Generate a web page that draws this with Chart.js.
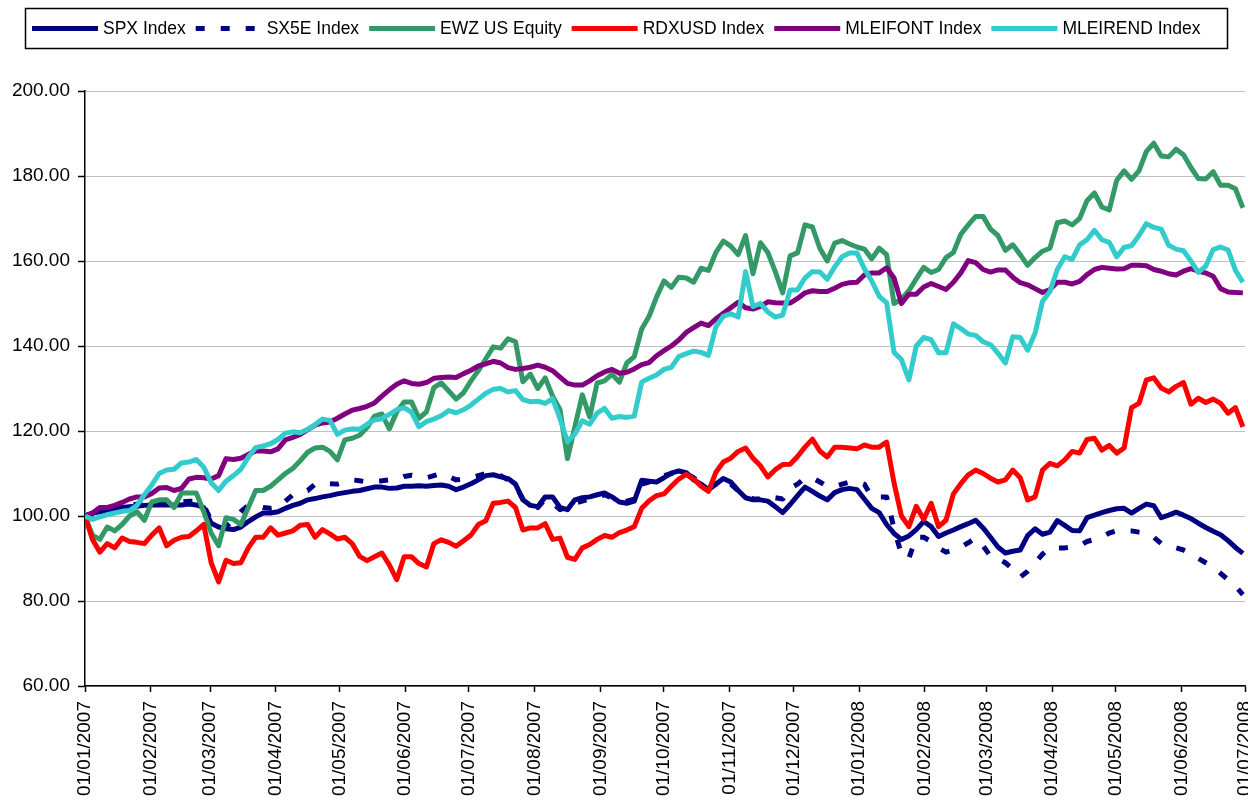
<!DOCTYPE html>
<html>
<head>
<meta charset="utf-8">
<title>Index performance 2007-2008</title>
<script src="https://cdn.jsdelivr.net/npm/chart.js@4.4.1/dist/chart.umd.min.js"></script>
<style>
  body { margin: 0; background: #fff; overflow: hidden; }
  canvas { display: block; }
</style>
</head>
<body>
<canvas id="chart" width="1248" height="801"></canvas>
<script>
// days since 01/01/2007: one reading at each week start and one mid-week
const weekDays = [0,7,14,21,28,35,42,49,56,63,70,77,84,91,98,105,112,119,126,133,140,147,154,161,168,175,182,189,196,203,210,217,224,231,238,245,252,259,266,273,280,287,294,301,308,315,322,329,336,343,350,357,364,371,378,385,392,399,406,413,420,427,434,441,448,455,462,469,476,483,490,497,504,511,518,525,532,539,546];
const midDays = weekDays.slice(0, -1).map(d => d + 3.5);

// month starts used as axis ticks
const monthDays = [0,31,59,90,120,151,181,212,243,273,304,334,365,396,425,456,486,517,547];
const monthLabels = ['01/01/2007','01/02/2007','01/03/2007','01/04/2007','01/05/2007','01/06/2007','01/07/2007','01/08/2007','01/09/2007','01/10/2007','01/11/2007','01/12/2007','01/01/2008','01/02/2008','01/03/2008','01/04/2008','01/05/2008','01/06/2008','01/07/2008'];

const yTicks = [60, 80, 100, 120, 140, 160, 180, 200];

const spxWeek = [100,101,101.8,102.2,102.5,102.6,102.6,102.8,102,97.4,96.8,98.7,100.7,101,102.5,103.8,104.5,105.2,105.8,106.4,106.8,106.6,107,107,107.3,106.2,107.6,109.5,109.2,107.5,102.5,104.5,102,103.8,104.5,105.4,103.3,103.5,108.2,109,110.6,108.5,106.2,108.8,106,103.8,103.5,100.8,104.8,105.8,103.8,106.2,106.2,101.8,98,94.5,96.8,97.5,96,97.5,99,95,91.3,92,97,96.2,97.8,96.5,100.2,101.3,101.8,101.8,102.4,100.2,100.2,98.3,96.4,94.2,91.2];
const spxMid = [100.7,101.3,102,102.3,102.6,102.6,102.6,102.6,98.3,97,97.4,99.8,100.7,101.8,103,104.1,104.8,105.5,106,106.8,106.5,107,107.1,107.2,107,106.8,108.5,109.7,108.8,103.8,102.2,104.5,101.5,104.3,105,104.5,103,108.4,108,110.1,110.2,107.5,107.5,108,104.3,103.8,102.2,102.7,106.8,104.7,105.5,106.5,104,100.8,95.9,95.3,98.7,95.2,96.7,98.2,97.2,92.7,91.7,95.4,95.7,98.9,96.6,99.6,100.8,101.7,100.7,102.8,99.6,100.9,99.4,97.3,95.6,92.6];

const sx5eWeek = [100,101,102,102.5,103,103,103.2,103.5,102.5,98,99,102.5,102,102,105,106,107.7,107.5,108.5,108,108.3,108.5,109.6,109,110,108.5,109,110,109.5,107,102.5,104,101.5,103,104,105,103.5,104,108,109.5,110.5,109,106.5,108.5,106,104,104.5,104,107.5,109,107,107.5,108,104.5,104.5,91,95,94,91.5,92.7,94.8,90.5,89,85.6,89,92.5,92.5,93,94.5,96,96.5,96.2,95,93,92,90,88,85,81.5];
const sx5eMid = [100.5,101.5,102.3,102.8,103,103.1,103.3,103.5,99,97.5,101,102.5,101.8,103.5,105.5,107.5,107.6,108,108.3,108.2,108.5,109.3,109.3,109.5,109.3,108.7,109.5,109.8,108.5,104,102,103,102,103.5,104.5,104.2,103.5,107.5,108.8,110,110,107.8,107.5,107.5,105,104,104.3,106.5,109,108,107,108,107.5,104.5,97,90,95,92.5,92,93.7,93,90,87.5,87,91,92.5,92.7,94,95,96.5,96.5,96,93.5,92.5,91.2,89,86.5,83.5];

const ewzWeek = [100,94.5,96.5,100,99,103.8,102,105.4,101,93,99.2,102,106,108.5,111.2,115,116.2,113.2,118.3,120.8,124,124.5,126.8,124.5,131.3,127.5,131.8,137,139.5,141,133.4,132.5,125,121,123.3,131.8,131.5,137.5,147,155.3,156.2,155,157.8,164.7,161.5,157,162,152.5,161.9,168,160,164.8,163.3,160.5,161.5,151,155.8,157.3,160.8,166.3,170.5,167.5,162.5,161.5,160.8,163,169.4,170,176,172,181.2,181.2,187.7,184.5,185,179.4,181,177.8,172.5];
const ewzMid = [95.5,97.4,98,101,103.3,103.8,105.4,105.4,96,99.6,98,106,107,110,113,116,115.2,117.9,119,123.5,120.5,126.8,123,130.2,129.4,129,134.2,139.8,141.7,131.6,130,128.2,113.5,128.5,131.3,133.3,136,144,151.5,153.8,156,158.3,162,163.5,166,164.3,157.5,161.2,168.5,163,164.2,164,162.8,163,150,153,158.5,158,162,168.5,170.5,166,163.8,159,162.3,169,168.5,174.2,172.7,179,179.2,185.8,184.7,186.3,182,179.3,177.8,177];

const rdxWeek = [100,91.5,92.5,94,93.5,97.2,94.3,95.2,98,84.5,88.8,92.5,95,95.5,96.5,98,96.8,94.6,93.5,89.5,91.3,85,90.4,88,94.4,92.9,95.5,98.9,103.2,102,97.2,98.2,94.8,89.8,93.3,95.4,96.1,97.5,103.6,105.2,108.7,108.7,105.8,112.7,115.2,113.6,109.2,112.1,114,118.1,113.9,116.2,115.8,116.2,117.4,100,102.3,103,99,107.6,110.8,108.9,108.5,109,104.5,112.4,113.2,114.8,118.3,116.6,116,126.5,132.5,129.2,131.4,127.7,127.5,124.2,121];
const rdxMid = [94.5,93.5,94.8,93.8,95.5,93,95,96.5,89,89.6,89,95,97.2,96,97.8,95,95.8,95,90.5,90.4,88.5,90.4,88.8,93.5,93.8,94.2,98,103,103.5,96.7,97.2,94.5,90.3,92.5,94.5,95,96.7,101.8,104.8,107,109.8,107,110.3,113.6,116,111.8,110.9,112.2,116.2,115.3,116.2,116,116.7,116.2,107.8,97.5,99.2,97.5,105.2,109.7,110,108,110.8,103.8,110.8,111.8,115.2,118,115.5,114.8,125.5,132,130.1,130.5,126.3,126.7,126.5,125.5];

const fontWeek = [100,102,102.5,104,104.5,106.6,106,108.7,109,109.5,113.3,114.5,115.3,115.8,118.5,120.3,121.9,123,124.9,125.8,128.2,131,131.2,131.4,132.6,132.6,134.3,135.8,136,134.5,135,135,132.7,130.8,131.8,133.9,133.6,134.6,136.1,138.9,141.4,144.3,144.8,147.7,150.3,148.7,150.4,150.1,151.2,153,152.8,154.5,155,157.2,158.4,150,152.2,154.7,153.3,157.2,159.6,157.4,157.9,154.9,153.5,153.3,155,155.2,158,158.3,158.2,159,158,157,157.6,157.6,156.4,152.7,152.5];
const fontMid = [100.7,102,103.2,104.5,105.3,106.7,106.5,109.1,108.7,113.5,113.6,115.3,115.1,117.9,119.2,121.4,122.1,124,125.3,126.6,129.7,131.8,131,132.4,132.7,133.5,135.3,136.4,134.9,134.7,135.5,134.2,131.2,130.8,133,134.5,133.8,135.6,137.7,140,143.2,145.4,146.4,149,149,149.3,150.2,150.1,152.5,152.8,153.6,154.9,156.7,157.2,156,152.2,153.9,154,155,160.1,158,157.9,156.2,154.4,152.6,155,154.6,156.8,158.5,158.1,159,158.9,157.6,156.7,158.2,157.2,153.5,152.6];

const rendWeek = [100,99.8,100.7,101.3,105,110,111,112.7,111.5,106,109.5,113.8,116.5,118,119.8,120.4,122.8,119.2,120.5,121.6,122.9,125,124.4,122.2,123.6,124.3,126.1,128.9,130,129.5,126.9,126.5,122.9,119.3,121.6,125.3,123.4,123.5,132.4,134.5,137.5,138.8,137.8,147,146.8,149.3,148,147.3,153.2,157.5,155.7,161,161.9,155.3,150.2,136.8,140,141.5,138.4,144.1,142.5,140.3,136,142,143,152.8,161,163.8,167.2,164.4,163.2,166,167.9,163.7,162.4,157.3,162.7,162.6,155];
const rendMid = [99.2,100.3,101.1,102.5,107.3,110.8,112.5,113.3,107.8,108.2,111,116.1,117,119.5,119.6,121.5,122.5,120.2,120.4,122.6,123.9,125.5,121,122.8,124.8,125,127.5,129.8,129.2,127.4,127,127.6,117.5,122.4,124.2,123,123.2,131.5,133.2,135,138.2,138.5,144.5,147.6,157.5,150,146.8,153.2,156,157.4,158.6,161.9,158.2,151.7,138.5,132,142,138.4,145.2,142.8,141,138.3,142.2,139,150.5,158,160.4,165,165,161,163.6,168.8,167.5,162.8,160,158.8,163.3,157.8];

const FONT = '"Liberation Sans", Arial, sans-serif';
Chart.defaults.font.family = FONT;
Chart.defaults.color = '#000';

// weekly and mid-week readings merged in date order
function points(week, mid) {
    const pts = [];
    week.forEach((v, i) => {
        pts.push({ x: weekDays[i], y: v });
        if (i < mid.length) pts.push({ x: midDays[i], y: mid[i] });
    });
    return pts;
}

function series(label, week, mid, color, order, dash) {
    return {
        label: label,
        data: points(week, mid),
        borderColor: color,
        backgroundColor: color,
        borderWidth: 5,
        borderDash: dash || [],
        borderJoinStyle: 'round',
        borderCapStyle: 'butt',
        pointRadius: 0,
        tension: 0,
        fill: false,
        order: order
    };
}

// legend drawn as a boxed row above the plot, like the spreadsheet original
const boxLegend = {
    id: 'boxLegend',
    afterDraw(chart) {
        const ctx = chart.ctx;
        ctx.save();
        ctx.strokeStyle = '#000';
        ctx.lineWidth = 1.5;
        ctx.strokeRect(25.5, 8.5, 1202, 40);
        ctx.font = '17.5px ' + FONT;
        ctx.textBaseline = 'middle';
        ctx.fillStyle = '#000';
        const y = 28.5;
        let x = 32;
        chart.data.datasets.forEach(ds => {
            ctx.beginPath();
            ctx.setLineDash(ds.borderDash || []);
            ctx.strokeStyle = ds.borderColor;
            ctx.lineWidth = 5;
            ctx.moveTo(x, y);
            ctx.lineTo(x + 66, y);
            ctx.stroke();
            ctx.setLineDash([]);
            ctx.fillText(ds.label, x + 71, y + 1);
            x += 71 + ctx.measureText(ds.label).width + 10;
        });
        ctx.restore();
    }
};

new Chart(document.getElementById('chart'), {
    type: 'line',
    data: {
        datasets: [
            series('SPX Index', spxWeek, spxMid, '#000080', 6),
            series('SX5E Index', sx5eWeek, sx5eMid, '#000080', 5, [9, 16]),
            series('EWZ US Equity', ewzWeek, ewzMid, '#339966', 4),
            series('RDXUSD Index', rdxWeek, rdxMid, '#ff0000', 3),
            series('MLEIFONT Index', fontWeek, fontMid, '#800080', 2),
            series('MLEIREND Index', rendWeek, rendMid, '#33cccc', 1)
        ]
    },
    options: {
        responsive: false,
        animation: false,
        layout: { autoPadding: false, padding: { top: 91, right: 3, left: 0, bottom: 0 } },
        plugins: {
            legend: { display: false },
            tooltip: { enabled: false }
        },
        scales: {
            x: {
                type: 'linear',
                min: monthDays[0],
                max: monthDays[monthDays.length - 1],
                afterBuildTicks: axis => { axis.ticks = monthDays.map(v => ({ value: v })); },
                afterFit: axis => { axis.height = 115; axis.paddingLeft = 0; axis.paddingRight = 0; },
                ticks: {
                    autoSkip: false,
                    minRotation: 90,
                    maxRotation: 90,
                    padding: 9,
                    font: { size: 19 },
                    callback: (value, index) => monthLabels[index]
                },
                grid: {
                    drawOnChartArea: false,
                    tickLength: 6,
                    tickColor: '#000',
                    tickWidth: 1.5
                },
                border: { color: '#000', width: 1.5 }
            },
            y: {
                min: yTicks[0],
                max: yTicks[yTicks.length - 1],
                afterBuildTicks: axis => { axis.ticks = yTicks.map(v => ({ value: v })); },
                afterFit: axis => { axis.width = 85; axis.paddingTop = 0; axis.paddingBottom = 0; },
                ticks: {
                    padding: 8,
                    font: { size: 19 },
                    callback: v => v.toFixed(2)
                },
                grid: {
                    color: '#808080',
                    lineWidth: 1,
                    tickLength: 7,
                    tickColor: '#000',
                    tickWidth: 1.5,
                    tickBorderDash: []
                },
                border: { color: '#000', width: 1.5, dash: [1, 1] }
            }
        }
    },
    plugins: [boxLegend]
});
</script>
</body>
</html>
